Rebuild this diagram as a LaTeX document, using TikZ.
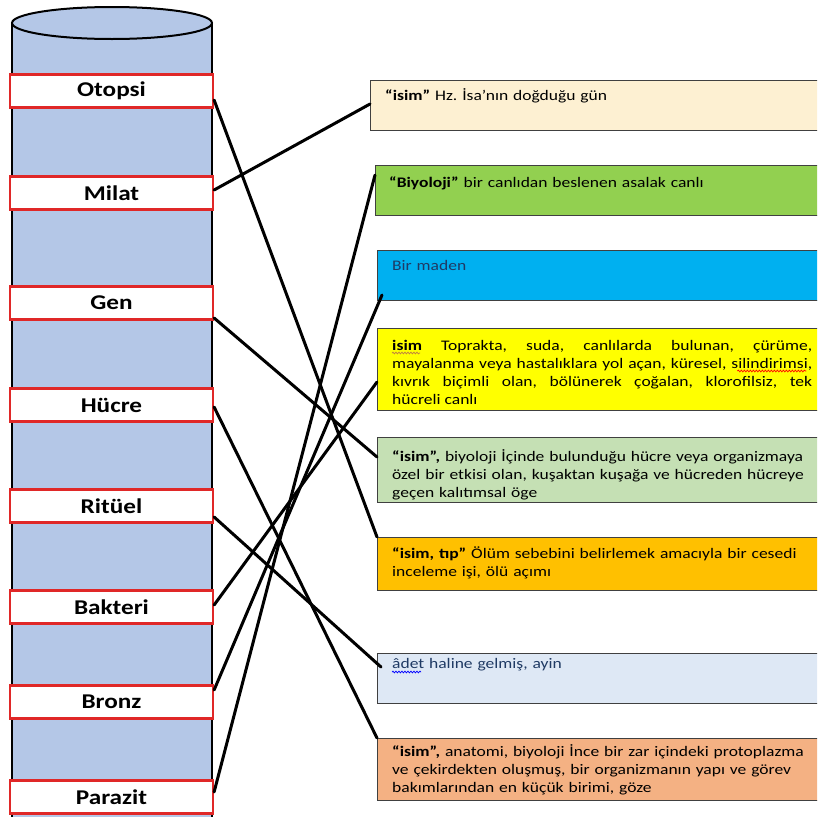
\documentclass[tikz,border=0pt]{standalone}
\usepackage{fontspec}
\setmainfont{Carlito}[FakeStretch=1.2]
\usetikzlibrary{positioning,decorations.pathmorphing}

\definecolor{cylblue}{HTML}{B4C7E7}
\definecolor{wordred}{HTML}{E02828}
\definecolor{cream}{HTML}{FDF0D2}
\definecolor{leafgreen}{HTML}{92D050}
\definecolor{skyblue}{HTML}{00B0F0}
\definecolor{lemon}{HTML}{FFFF00}
\definecolor{sage}{HTML}{C5E0B4}
\definecolor{amber}{HTML}{FFC000}
\definecolor{paleblue}{HTML}{DEE8F5}
\definecolor{salmon}{HTML}{F4B183}
\definecolor{navytext}{HTML}{1F3A64}

\begin{document}
\frenchspacing
\begin{tikzpicture}[x=1pt,y=-1pt,
    word/.style={draw=wordred, line width=2.2pt, fill=white, minimum width=203pt,
      minimum height=33pt, inner sep=0pt, font=\fontsize{21}{24}\selectfont\bfseries},
    defbox/.style={draw=black!75, line width=1.3pt, anchor=north west,
      minimum width=460pt, inner sep=0pt},
    deftext/.style={anchor=north west, inner sep=0pt, text width=440pt, align=left,
      font=\fontsize{14.6}{18}\selectfont},
    link/.style={line width=3pt, line cap=round},
    spellwave/.style={line width=0.7pt, decorate,
      decoration={snake, amplitude=0.9pt, segment length=3pt}}]

  \clip (0,0) rectangle (817,817);

  % the cylinder
  \fill[cylblue] (12,23) rectangle (212,830);
  \draw[line width=2pt] (12,23) -- (12,830) (212,23) -- (212,830);
  \draw[line width=2pt, fill=cylblue] (112,23) ellipse [x radius=100pt, y radius=16pt];

  % words on the cylinder
  \node[word] (otopsi)  at (111.5,91)  {Otopsi};
  \node[word] (milat)   at (111.5,193) {Milat};
  \node[word] (gen)     at (111.5,303) {Gen};
  \node[word] (hucre)   at (111.5,405) {Hücre};
  \node[word] (rituel)  at (111.5,506) {Ritüel};
  \node[word] (bakteri) at (111.5,607) {Bakteri};
  \node[word] (bronz)   at (111.5,702) {Bronz};
  \node[word] (parazit) at (111.5,797) {Parazit};

  % definition boxes, text sits in the top left corner
  \node[defbox, fill=cream, minimum height=50pt] (dMilat) at (370,80) {};
  \node[deftext] (tMilat) at ([xshift=15pt,yshift=-8pt]dMilat.north west)
    {\textbf{“isim”} Hz. İsa’nın doğduğu gün};

  \node[defbox, fill=leafgreen, minimum height=50pt] (dParazit) at (375,165) {};
  \node[deftext] (tParazit) at ([xshift=14pt,yshift=-12pt]dParazit.north west)
    {\textbf{“Biyoloji”} bir canlıdan beslenen asalak canlı};

  \node[defbox, fill=skyblue, minimum height=50pt] (dBronz) at (377,250) {};
  \node[deftext, text=navytext] (tBronz) at ([xshift=15pt,yshift=-10pt]dBronz.north west)
    {Bir maden};

  \node[defbox, fill=lemon, minimum height=82pt] (dBakteri) at (377,328) {};
  \node[deftext, text width=420pt, align=justify] (tBakteri)
    at ([xshift=15pt,yshift=-12pt]dBakteri.north west)
    {\textbf{isim} Toprakta, suda, canlılarda bulunan, çürüme,\linebreak
     mayalanma veya hastalıklara yol açan, küresel, silindirimsi,\linebreak
     kıvrık biçimli olan, bölünerek çoğalan, klorofilsiz, tek\linebreak
     hücreli canlı};

  \node[defbox, fill=sage, minimum height=65pt] (dGen) at (377,437) {};
  \node[deftext] (tGen) at ([xshift=15pt,yshift=-12pt]dGen.north west)
    {\textbf{“isim”,} biyoloji İçinde bulunduğu hücre veya organizmaya\\
     özel bir etkisi olan, kuşaktan kuşağa ve hücreden hücreye\\
     geçen kalıtımsal öge};

  \node[defbox, fill=amber, minimum height=53pt] (dOtopsi) at (377,537) {};
  \node[deftext] (tOtopsi) at ([xshift=15pt,yshift=-10pt]dOtopsi.north west)
    {\textbf{“isim, tıp”} Ölüm sebebini belirlemek amacıyla bir cesedi\\
     inceleme işi, ölü açımı};

  \node[defbox, fill=paleblue, minimum height=50pt] (dRituel) at (377,653) {};
  \node[deftext, text=navytext] (tRituel) at ([xshift=15pt,yshift=-5pt]dRituel.north west)
    {âdet haline gelmiş, ayin};

  \node[defbox, fill=salmon, minimum height=62pt] (dHucre) at (377,738) {};
  \node[deftext] (tHucre) at ([xshift=15pt,yshift=-6pt]dHucre.north west)
    {\textbf{“isim”,} anatomi, biyoloji İnce bir zar içindeki protoplazma\\
     ve çekirdekten oluşmuş, bir organizmanın yapı ve görev\\
     bakımlarından en küçük birimi, göze};

  % spell-check waves under a few words
  \draw[spellwave, brown] ([yshift=-13pt]tBakteri.north west) -- ++(28,0);
  \draw[spellwave, red]   ([xshift=-75pt,yshift=-31pt]tBakteri.north east) -- ++(69,0);
  \draw[spellwave, blue]  ([yshift=-14pt]tRituel.north west) -- ++(29,0);

  % matching lines from word to meaning
  \draw[link] ([yshift=-9pt]otopsi.east)  -- (dOtopsi.north west);
  \draw[link] ([yshift=3pt]milat.east)    -- ([yshift=-24pt]dMilat.north west);
  \draw[link] ([yshift=-15pt]gen.east)    -- ([yshift=-20pt]dGen.north west);
  \draw[link] ([yshift=-2pt]hucre.east)   -- (dHucre.north west);
  \draw[link] ([yshift=-11pt]rituel.east) -- ([xshift=4pt,yshift=-14pt]dRituel.north west);
  \draw[link] ([yshift=2pt]bakteri.east)  -- ([yshift=-54pt]dBakteri.north west);
  \draw[link] ([yshift=12pt]bronz.east)   -- ([xshift=5pt,yshift=-45pt]dBronz.north west);
  \draw[link] ([yshift=5pt]parazit.east)  -- ([yshift=-10pt]dParazit.north west);
\end{tikzpicture}
\end{document}
